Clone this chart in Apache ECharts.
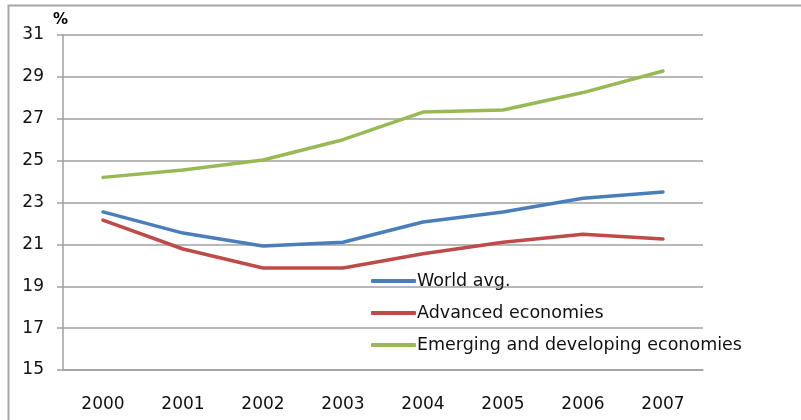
<!DOCTYPE html>
<html><head><meta charset="utf-8">
<script src="https://cdn.jsdelivr.net/npm/echarts@6/dist/echarts.min.js"></script>
<style>html,body{margin:0;padding:0;background:#fff}#c{width:801px;height:420px}</style>
</head><body><div id="c"></div>
<script>
const categories = ['2000','2001','2002','2003','2004','2005','2006','2007'];
const worldAvg = [22.55, 21.54, 20.92, 21.1, 22.07, 22.55, 23.2, 23.5];
const advanced = [22.16, 20.78, 19.87, 19.87, 20.55, 21.1, 21.48, 21.26];
const emerging = [24.2, 24.55, 25.03, 26.0, 27.32, 27.42, 28.25, 29.28];
const seriesNames = ['World avg.', 'Advanced economies', 'Emerging and developing economies'];
const colors = ['#4a7ebb', '#be4b48', '#98b954'];
const font = '"DejaVu Sans", sans-serif';

const chart = echarts.init(document.getElementById('c'), null, {renderer: 'canvas'});
const data = [worldAvg, advanced, emerging];
chart.setOption({
  animation: false,
  color: colors,
  grid: {left: 63, right: 98, top: 35, bottom: 50, containLabel: false},
  graphic: [
    {type: 'rect', shape: {x: 8.5, y: 5.5, width: 900, height: 600}, style: {fill: 'none', stroke: '#a6a6a6', lineWidth: 2}, z: 100},
    {type: 'text', left: 53, top: 13, style: {text: '%', font: 'bold 15px ' + font, fill: '#000'}}
  ],
  legend: {
    orient: 'vertical', left: 366, top: 267, itemGap: 14,
    itemWidth: 45, itemHeight: 4, icon: 'roundRect',
    textStyle: {fontFamily: font, fontSize: 17.5, color: '#111', padding: [0,0,0,-4]},
    data: seriesNames
  },
  xAxis: {
    type: 'category', data: categories, boundaryGap: true,
    axisLine: {lineStyle: {color: '#a0a0a0', width: 1.5}},
    axisTick: {length: 5, lineStyle: {color: '#a0a0a0', width: 1.5}},
    axisLabel: {fontFamily: font, fontSize: 17, color: '#111', margin: 26}
  },
  yAxis: {
    type: 'value', min: 15, max: 31, interval: 2,
    axisLine: {show: true, lineStyle: {color: '#a0a0a0', width: 1.5}},
    axisTick: {show: true, length: 6, lineStyle: {color: '#a0a0a0', width: 1.5}},
    axisLabel: {fontFamily: font, fontSize: 17, color: '#111', margin: 19, padding: [3,0,0,0]},
    splitLine: {lineStyle: {color: '#a0a0a0', width: 1.5}}
  },
  series: seriesNames.map((n, i) => ({
    name: n, type: 'line', data: data[i], symbol: 'none', smooth: false,
    lineStyle: {width: 3.5, color: colors[i], cap: 'round', join: 'round'}
  }))
});
</script></body></html>
